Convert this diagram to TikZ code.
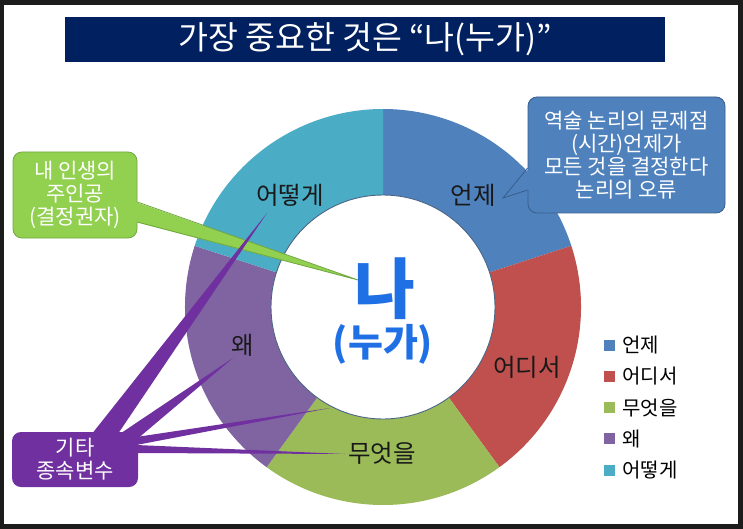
\documentclass[tikz,border=0pt]{standalone}
\usepackage{fontspec}
\setmainfont{Noto Sans CJK KR}
\definecolor{frameC}{HTML}{1C1C1C}
\definecolor{navy}{HTML}{002060}
\definecolor{eonje}{HTML}{4F81BD}
\definecolor{eonjeD}{HTML}{385D8A}
\definecolor{eodi}{HTML}{C0504D}
\definecolor{mueot}{HTML}{9BBB59}
\definecolor{wae}{HTML}{8064A2}
\definecolor{eotte}{HTML}{4BACC6}
\definecolor{ringC}{HTML}{4A6485}
\definecolor{meblue}{HTML}{1F6FE5}
\definecolor{greenC}{HTML}{92D050}
\definecolor{greenD}{HTML}{71A840}
\definecolor{purpleC}{HTML}{7030A0}
\begin{document}
\begin{tikzpicture}[x=1pt, y=-1pt,
  lbl/.style={font=\fontsize{24.5}{28}\selectfont, text=black!90},
  callout/.style={rounded corners=9pt, align=center, text=white, inner sep=0pt,
    font=\fontsize{21}{23}\selectfont},
  key/.style={minimum size=11pt, inner sep=0pt},
  note/.style={anchor=west, inner sep=0pt, font=\fontsize{20}{22}\selectfont}
]
\fill[frameC] (0,0) rectangle (743,529);
\fill[white] (4,5) rectangle (738,524);
\useasboundingbox (0,0) rectangle (743,529);

\node[fill=navy, minimum width=600pt, minimum height=45pt, inner sep=0pt, text=white,
  font=\fontsize{32.5}{36}\selectfont] (title) at (365,39.5) {가장 중요한 것은 “나(누가)”};

\begin{scope}[shift={(383,307)}, y=1pt]
  \foreach \a/\c/\t/\p [count=\i] in {90/eonje/언제/{(90,112)}, 18/eodi/어디서/{(144,-60)},
      -54/mueot/무엇을/{(-1,-146)}, -126/wae/왜/{(-140,-38)}, -198/eotte/어떻게/{(-93,112)}} {
    \pgfmathsetmacro\b{\a-72}
    \fill[\c] (\a:198) arc[start angle=\a, end angle=\b, radius=198]
      -- (\b:112) arc[start angle=\b, end angle=\a, radius=112] -- cycle;
    \node[lbl] (lbl\i) at \p {\t};
  }
  \draw[ringC, line width=0.9pt, fill=white] (0,0) circle[radius=112];
  \node[text=meblue, font=\fontsize{66}{70}\bfseries] (na) at (2,18) {나};
  \node[text=meblue, font=\fontsize{38}{42}\bfseries] (nuga) at (0,-37) {(누가)};
\end{scope}

\coordinate (tipE) at (503,198);
\coordinate (tipMe) at (358,280);
\coordinate (tipA) at (267,213);
\coordinate (tipB) at (233,358);
\coordinate (tipC) at (330,408);
\coordinate (tipD) at (345,454);

\node[callout, fill=eonje, draw=eonjeD, thick, minimum width=197pt, minimum height=116pt]
  (why) at (626.5,155) {역술 논리의 문제점\\(시간)언제가\\모든 것을 결정한다\\논리의 오류};
\fill[eonje] ([xshift=2pt,yshift=-13pt]why.west) -- (tipE) -- ([xshift=2pt,yshift=-35pt]why.west) -- cycle;
\draw[eonjeD, thick] ([yshift=-13pt]why.west) -- (tipE) -- ([yshift=-35pt]why.west);

\node[callout, fill=greenC, draw=greenD, thick, minimum width=124pt, minimum height=86pt]
  (me) at (75,195) {내 인생의\\주인공\\(결정권자)};
\fill[greenC] ([xshift=-2pt,yshift=-7pt]me.east) -- (tipMe) -- ([xshift=-2pt,yshift=-27pt]me.east) -- cycle;
\draw[greenD, thick] ([yshift=-7pt]me.east) -- (tipMe) -- ([yshift=-27pt]me.east);

\node[callout, fill=purpleC, minimum width=126pt, minimum height=55pt]
  (etc) at (75,459.5) {기타\\종속변수};
\fill[purpleC] ([xshift=17pt,yshift=-2pt]etc.north) -- (tipA) -- ([xshift=43pt,yshift=-2pt]etc.north) -- cycle;
\fill[purpleC] ([xshift=45pt,yshift=-2pt]etc.north) -- (tipB) -- ([xshift=-2pt,yshift=-8pt]etc.north east) -- cycle;
\fill[purpleC] ([xshift=-2pt,yshift=22.5pt]etc.east) -- (tipC) -- ([xshift=-2pt,yshift=14.5pt]etc.east) -- cycle;
\fill[purpleC] ([xshift=-2pt,yshift=14.5pt]etc.east) -- (tipD) -- ([xshift=-2pt,yshift=6.5pt]etc.east) -- cycle;

\foreach \c/\t [count=\i] in {eonje/언제, eodi/어디서, mueot/무엇을, wae/왜, eotte/어떻게} {
  \node[key, fill=\c] (key\i) at (609.5,{345+31.25*(\i-1)}) {};
  \node[note] (keyt\i) at ([xshift=7pt]key\i.east) {\t};
}
\end{tikzpicture}
\end{document}
